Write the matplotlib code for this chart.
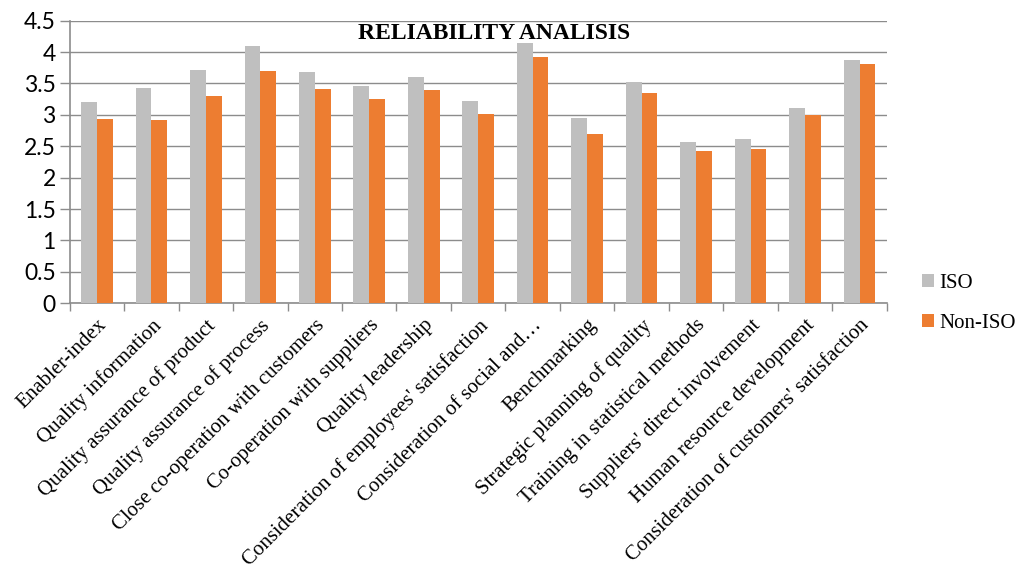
import matplotlib.pyplot as plt
import numpy as np

categories = [
    "Enabler-index",
    "Quality information",
    "Quality assurance of product",
    "Quality assurance of process",
    "Close co-operation with customers",
    "Co-operation with suppliers",
    "Quality leadership",
    "Consideration of employees' satisfaction",
    "Consideration of social and\u2026",
    "Benchmarking",
    "Strategic planning of quality",
    "Training in statistical methods",
    "Suppliers' direct involvement",
    "Human resource development",
    "Consideration of customers' satisfaction",
]
iso = [3.21, 3.42, 3.72, 4.09, 3.68, 3.46, 3.61, 3.22, 4.15, 2.95, 3.52, 2.57, 2.61, 3.11, 3.87]
non_iso = [2.93, 2.92, 3.30, 3.70, 3.41, 3.25, 3.40, 3.01, 3.92, 2.70, 3.35, 2.42, 2.45, 2.99, 3.81]

fig = plt.figure(figsize=(10.24, 5.78), dpi=100)
ax = fig.add_axes([0.068, 0.4753, 0.798, 0.489])

x = np.arange(len(categories))
w = 0.29
ax.bar(x - w / 2, iso, w, color="#BFBFBF", label="ISO", zorder=3)
ax.bar(x + w / 2, non_iso, w, color="#ED7D31", label="Non-ISO", zorder=3)

ax.set_xlim(-0.5, len(categories) - 0.5)
ax.set_ylim(0, 4.5)
ax.set_yticks(np.arange(0, 4.51, 0.5))
ax.set_yticklabels(["0", "0.5", "1", "1.5", "2", "2.5", "3", "3.5", "4", "4.5"],
                   family="Lato", fontsize=16.5)
ax.yaxis.grid(True, color="#8C8C8C", linewidth=1, zorder=0)

# category labels between boundary ticks
ax.set_xticks(x)
ax.set_xticklabels(categories, rotation=45, ha="right", rotation_mode="anchor",
                   family="Liberation Serif", fontsize=15)
ax.tick_params(axis="x", length=0, pad=9)
ax.set_xticks(np.arange(-0.5, len(categories)), minor=True)
ax.tick_params(axis="x", which="minor", length=6, color="#8C8C8C", width=1)
ax.tick_params(axis="y", length=7, color="#8C8C8C", width=1, pad=3)

for s in ["top", "right"]:
    ax.spines[s].set_visible(False)
for s in ["left", "bottom"]:
    ax.spines[s].set_color("#8C8C8C")
    ax.spines[s].set_linewidth(1.2)

ax.text(0.52, 0.955, "RELIABILITY ANALISIS", transform=ax.transAxes, ha="center",
        va="center", family="Liberation Serif", fontweight="bold", fontsize=17, zorder=5)

ax.legend(loc="center left", bbox_to_anchor=(1.02, 0.0), frameon=False,
          prop={"family": "Liberation Serif", "size": 15}, handlelength=0.6,
          handleheight=0.6, handletextpad=0.25, labelspacing=1.0)

fig.savefig("out.png", dpi=100)
